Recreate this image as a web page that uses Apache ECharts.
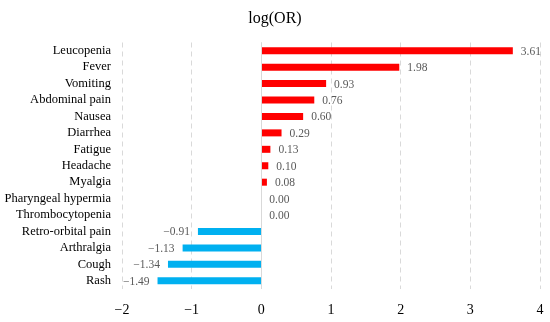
<!DOCTYPE html>
<html>
<head>
<meta charset="utf-8">
<script src="https://cdn.jsdelivr.net/npm/echarts@6/dist/echarts.min.js"></script>
<style>html,body{margin:0;padding:0;background:#fff}#c{width:550px;height:322px}</style>
</head>
<body>
<div id="c"></div>
<script>
var categories = ["Leucopenia","Fever","Vomiting","Abdominal pain","Nausea","Diarrhea","Fatigue","Headache","Myalgia","Pharyngeal hypermia","Thrombocytopenia","Retro-orbital pain","Arthralgia","Cough","Rash"];
var values = [3.61,1.98,0.93,0.76,0.60,0.29,0.13,0.10,0.08,0.00,0.00,-0.91,-1.13,-1.34,-1.49];
var xTicks = {min:-2, max:4, interval:1};

function fmt(v){ return v.toFixed(2).replace('-', '\u2212'); }
var FONT = '"Liberation Serif", "DejaVu Serif", serif';

var chart = echarts.init(document.getElementById('c'), null, {renderer:'canvas'});
chart.setOption({
  animation:false,
  backgroundColor:'#fff',
  title:{text:'log(OR)', left:'center', top:6, textStyle:{fontFamily:FONT, fontSize:16, fontWeight:'normal', color:'#000'}},
  grid:{left:122, right:10, top:42.5, height:246.5, containLabel:false},
  xAxis:{type:'value', min:xTicks.min, max:xTicks.max, interval:xTicks.interval,
    axisLine:{show:false}, axisTick:{show:false},
    axisLabel:{margin:14, fontFamily:FONT, fontSize:14, color:'#000', formatter:function(v){return String(v).replace('-', '\u2212');}},
    splitLine:{show:true, lineStyle:{type:[5,4], color:'#d9d9d9', width:1}}},
  yAxis:{type:'category', data:categories, inverse:true,
    axisLine:{show:false}, axisTick:{show:false}, splitLine:{show:false},
    axisLabel:{interval:0, margin:11, fontFamily:FONT, fontSize:12.5, color:'#000'}},
  series:[{
    type:'bar', barWidth:7,
    data: values.map(function(v){
      return {value:v,
        itemStyle:{color: v<0 ? '#00B0F0' : '#FF0000'},
        label:{position: v<0 ? 'left' : 'right'}};
    }),
    label:{show:true, distance:8, offset:[0,1], fontFamily:FONT, fontSize:11.5, color:'#595959', formatter:function(p){return fmt(p.value);}},
    markLine:{silent:true, symbol:'none', label:{show:false},
      lineStyle:{type:'solid', color:'#d9d9d9', width:1},
      data:[{xAxis:0}]}
  }]
});
</script>
</body>
</html>
